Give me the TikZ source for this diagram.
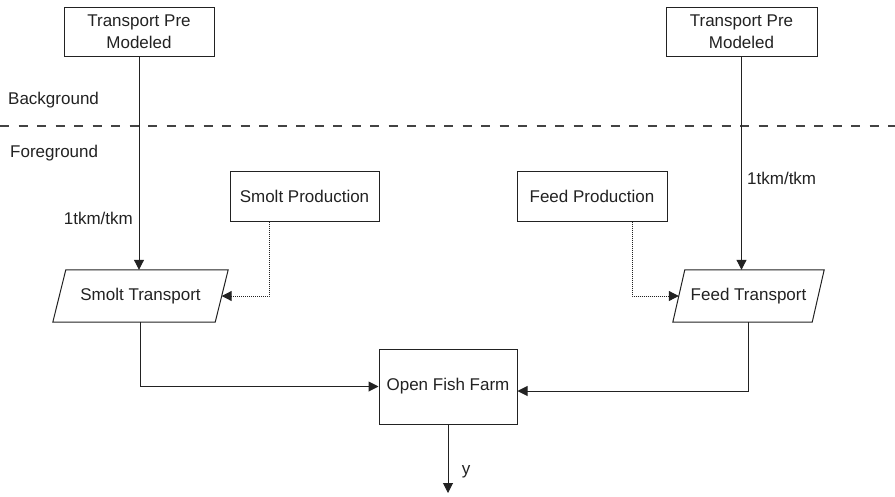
\documentclass[tikz,border=0pt]{standalone}
\usepackage{fontspec}
\setmainfont{Liberation Sans}
\usetikzlibrary{arrows.meta,calc}
\definecolor{ink}{HTML}{222222}
\begin{document}
\begin{tikzpicture}[x=1pt,y=-1pt,
  every node/.style={font=\fontsize{17}{22}\selectfont, text=ink},
  box/.style={draw=ink, line width=1pt, align=center, inner sep=0pt},
  slot/.style={inner sep=0pt},
  flow/.style={draw=ink, line width=1pt, -{Triangle[length=10pt,width=10pt]}},
  dotflow/.style={flow, dash pattern=on 1pt off 1pt},
  tag/.style={inner sep=0pt}]
\useasboundingbox (0,0) rectangle (895,496);

% background / foreground split
\draw[draw=ink!85, line width=1.1pt, dash pattern=on 9pt off 9.5pt] (0,126) -- (895,126);
\node[tag, anchor=west] (bg) at (8,100) {Background};
\node[tag, anchor=west] (fg) at (10,153) {Foreground};

% process boxes
\node[box, minimum width=150pt, minimum height=49pt] (tpl) at (139,31.5) {Transport Pre\\Modeled};
\node[box, minimum width=151pt, minimum height=49pt] (tpr) at (741.5,31.5) {Transport Pre\\Modeled};
\node[box, minimum width=149pt, minimum height=50pt] (smp) at (304.5,196) {Smolt Production};
\node[box, minimum width=150pt, minimum height=50pt] (fdp) at (592,196) {Feed Production};
\node[box, minimum width=138pt, minimum height=75pt] (off) at (448,386.5) {Open Fish Farm};

% transport steps (parallelograms)
\node[slot, minimum width=149pt, minimum height=52pt] (st) at (140.5,296) {Smolt Transport};
\draw[draw=ink, line width=1pt] (st.north west) -- ($(st.north east)+(13,0)$) -- (st.south east) -- ($(st.south west)+(-13,0)$) -- cycle;
\coordinate (stin) at ($(st.east)+(6.5,0)$);

\node[slot, minimum width=127pt, minimum height=52pt] (ft) at (748.5,296) {Feed Transport};
\draw[draw=ink, line width=1pt] (ft.north west) -- ($(ft.north east)+(12,0)$) -- (ft.south east) -- ($(ft.south west)+(-12,0)$) -- cycle;
\coordinate (ftin) at ($(ft.west)+(-6,0)$);

% connectors
\draw[flow] (tpl.south) -- (tpl.south |- st.north);
\node[tag, anchor=east] (l1) at (133,218) {1tkm/tkm};
\draw[flow] (tpr.south) -- (tpr.south |- ft.north);
\node[tag, anchor=west] (l2) at (747,178) {1tkm/tkm};

\coordinate (smpout) at ($(smp.south)+(-35.5,0)$);
\draw[dotflow] (smpout) |- (stin);
\coordinate (fdpout) at ($(fdp.south)+(40,0)$);
\draw[dotflow] (fdpout) |- (ftin);

\draw[flow] (st.south) |- (off.west);
\coordinate (offin) at ($(off.east)+(0,4.5)$);
\draw[flow] (ft.south) |- (offin);

\coordinate (yout) at (448,493);
\draw[flow] (off.south) -- (yout);
\node[tag] (ylab) at (466,472) {y};
\end{tikzpicture}
\end{document}
